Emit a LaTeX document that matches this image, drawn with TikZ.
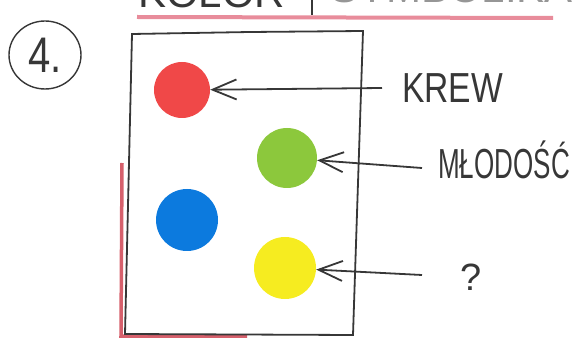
\documentclass[tikz,border=0pt]{standalone}
\usepackage{fontspec}
\setmainfont{Liberation Sans}
\newfontfamily\hand{Liberation Sans}
\newfontfamily\handnarrow[FakeStretch=0.8]{Liberation Sans}
\newfontfamily\handslim[FakeStretch=0.62]{Liberation Sans}
\usepackage{tikz}
\usetikzlibrary{arrows.meta, shapes.geometric}

\definecolor{ink}{RGB}{55,55,55}
\definecolor{pencil}{RGB}{150,150,150}
\definecolor{rose}{RGB}{232,140,155}
\definecolor{marker}{RGB}{214,96,108}
\definecolor{redink}{RGB}{240,72,72}
\definecolor{greenink}{RGB}{140,200,60}
\definecolor{blueink}{RGB}{12,122,222}
\definecolor{yellowink}{RGB}{246,236,32}

\begin{document}
\begin{tikzpicture}[x=1pt, y=-1pt]
            \useasboundingbox (0,0) rectangle (573,339);

            % title, cut off at the top
            \node[anchor=base west, inner sep=0pt, text=ink,
                  font=\hand\fontsize{42}{42}\selectfont] (KOLOR) at (138,8) {KOLOR};
            \node[anchor=base west, inner sep=0pt, text=pencil,
                  font=\hand\fontsize{42}{42}\selectfont] (SYMBOLIKA) at (330,3) {SYMBOLIKA};
            \draw[ink, line width=1.4pt] (312,-2) -- (312,15);
            \draw[rose, line width=4pt] (137,17) -- (553,18);

            \node[draw=ink, ellipse, line width=1.4pt, text=ink,
                  minimum width=72pt, minimum height=68pt,
                  font=\handnarrow\fontsize{50}{50}\selectfont] (NUM) at (45,55) {4.};

            % card
            \draw[marker, line width=3.5pt] (122,163) -- (121,336) -- (247,336);
            \draw[ink, line width=1.8pt] (132,34) -- (250,32) -- (363,31)
                 -- (353,335) -- (125,334) -- cycle;

            \begin{scope}[every node/.style={circle, inner sep=0pt}]
                \node[fill=redink, minimum size=56pt] (RED) at (182,90) {};
                \node[fill=greenink, minimum size=60pt] (GREEN) at (287,158) {};
                \node[fill=blueink, minimum size=62pt] (BLUE) at (187,220) {};
                \node[fill=yellowink, minimum size=62pt] (YELLOW) at (285,268) {};
            \end{scope}

            \begin{scope}[every node/.style={anchor=west, inner sep=0pt, text=ink,
                          text height=30pt, text depth=0pt}]
                \node[font=\handnarrow\fontsize{42}{42}\selectfont] (KREW) at (402,88) {KREW};
                \node[font=\handslim\fontsize{42}{42}\selectfont] (MLODOSC) at (438,164) {MŁODOŚĆ};
                \node[font=\hand\fontsize{38}{38}\selectfont] (WHAT) at (460,275) {?};
            \end{scope}

            \begin{scope}[>={Straight Barb[length=24pt, width=20pt]},
                          every edge/.style={draw=ink, line width=1.8pt}]
                 \path[->] ([xshift=-20pt]KREW.west) edge (RED);
                 \path[->] ([shift={(-16pt,-4pt)}]MLODOSC.west) edge (GREEN);
                 \path[->] ([xshift=-38pt]WHAT.west) edge (YELLOW);
            \end{scope}
\end{tikzpicture}
\end{document}
